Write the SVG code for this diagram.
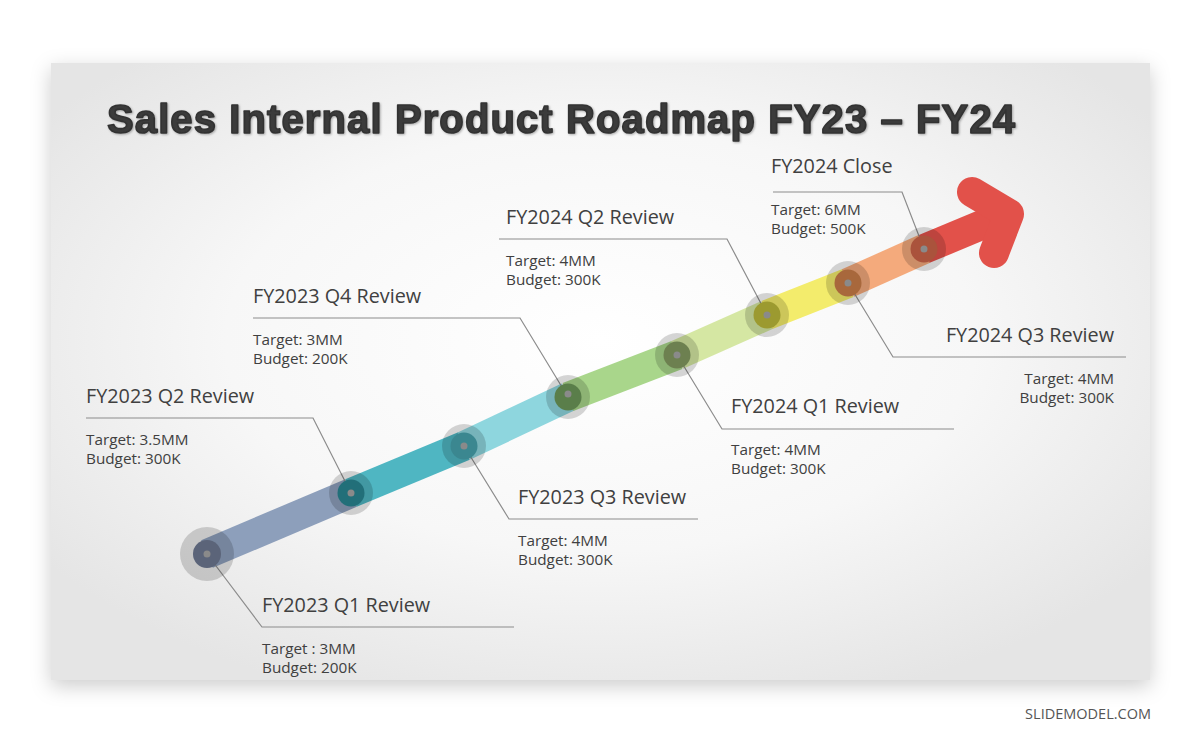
<svg xmlns="http://www.w3.org/2000/svg" width="1200" height="743" viewBox="0 0 1200 743">
<defs>
<radialGradient id="bg" cx="0.5" cy="0.45" r="0.62">
<stop offset="0" stop-color="#ffffff"/>
<stop offset="0.55" stop-color="#f7f7f7"/>
<stop offset="1" stop-color="#e5e5e5"/>
</radialGradient>
<filter id="sh" x="-10%" y="-10%" width="120%" height="125%">
<feDropShadow dx="0" dy="6" stdDeviation="10" flood-color="#000" flood-opacity="0.2"/>
</filter>
<filter id="ts" x="-5%" y="-20%" width="110%" height="150%">
<feDropShadow dx="1" dy="1" stdDeviation="0.8" flood-color="#000" flood-opacity="0.3"/>
</filter>
</defs>
<style>
.lbl{font-family:"Open Sans","Noto Sans","Liberation Sans",sans-serif;font-size:19.8px;fill:#404040}
.sub{font-family:"Open Sans","Noto Sans","Liberation Sans",sans-serif;font-size:15.3px;fill:#404040}
.ldr{fill:none;stroke:#8c8c8c;stroke-width:1.2}
.band{stroke-width:30;fill:none;stroke-linecap:butt}
.halo{fill:#000;fill-opacity:0.16}
.dot{fill:#8a8a8a}
</style>
<rect x="0" y="0" width="1200" height="743" fill="#ffffff"/>
<rect x="51" y="63" width="1099" height="617" fill="url(#bg)" filter="url(#sh)"/>
<text x="107" y="133" textLength="908" lengthAdjust="spacing" font-family="Liberation Sans,Arial,sans-serif" font-weight="bold" font-size="40" fill="#3a3a3a" stroke="#333333" stroke-width="1.6" stroke-linejoin="round" filter="url(#ts)">Sales Internal Product Roadmap FY23 – FY24</text>

<g id="band">
<line class="band" x1="207" y1="554" x2="351" y2="493" stroke="#8D9FBB"/>
<line class="band" x1="351" y1="493" x2="464" y2="446" stroke="#4FB6C2"/>
<line class="band" x1="464" y1="446" x2="568" y2="397" stroke="#8ED6DE"/>
<line class="band" x1="568" y1="397" x2="677" y2="355" stroke="#A9D68B"/>
<line class="band" x1="677" y1="355" x2="767" y2="315" stroke="#D5E7A3"/>
<line class="band" x1="767" y1="315" x2="848" y2="283" stroke="#F3EC6C"/>
<line class="band" x1="848" y1="283" x2="924" y2="249" stroke="#F4AA7C"/>
<path d="M924 249 L1008 214" stroke="#E2514A" stroke-width="30" fill="none"/>
<path d="M972 192 L1009 214 L994 253" stroke="#E2514A" stroke-width="30" fill="none" stroke-linecap="round" stroke-linejoin="round"/>
</g>

<g id="connectors">
<polyline class="ldr" points="207,554 262,627 514,627"/>
<polyline class="ldr" points="351,493 313,418 86,418"/>
<polyline class="ldr" points="464,446 509,519 698,519"/>
<polyline class="ldr" points="568,397 520,318 253,318"/>
<polyline class="ldr" points="677,355 722,429 954,429"/>
<polyline class="ldr" points="767,315 727,239 499,239"/>
<polyline class="ldr" points="848,283 893,357 1126,357"/>
<polyline class="ldr" points="924,249 902,192 773,192"/>
</g>

<g id="n1">
<circle class="halo" cx="207" cy="554" r="27"/>
<circle cx="207" cy="554" r="14" fill="#5B6479"/>
<circle class="dot" cx="207" cy="554" r="3.5"/>
<text class="lbl" x="262" y="612">FY2023 Q1 Review</text>
<text class="sub" x="262" y="654">Target : 3MM</text>
<text class="sub" x="262" y="673">Budget: 200K</text>
</g>
<g id="n2">
<circle class="halo" cx="351" cy="493" r="22"/>
<circle cx="351" cy="493" r="13.5" fill="#226F79"/>
<circle class="dot" cx="351" cy="493" r="3.5"/>
<text class="lbl" x="86" y="403">FY2023 Q2 Review</text>
<text class="sub" x="86" y="445">Target: 3.5MM</text>
<text class="sub" x="86" y="464">Budget: 300K</text>
</g>
<g id="n3">
<circle class="halo" cx="464" cy="446" r="22"/>
<circle cx="464" cy="446" r="13.5" fill="#3B8790"/>
<circle class="dot" cx="464" cy="446" r="3.5"/>
<text class="lbl" x="518" y="504">FY2023 Q3 Review</text>
<text class="sub" x="518" y="546">Target: 4MM</text>
<text class="sub" x="518" y="565">Budget: 300K</text>
</g>
<g id="n4">
<circle class="halo" cx="568" cy="397" r="22"/>
<circle cx="568" cy="397" r="13.5" fill="#5A7E4A"/>
<circle class="dot" cx="568" cy="394" r="3.5"/>
<text class="lbl" x="253" y="303">FY2023 Q4 Review</text>
<text class="sub" x="253" y="345">Target: 3MM</text>
<text class="sub" x="253" y="364">Budget: 200K</text>
</g>
<g id="n5">
<circle class="halo" cx="677" cy="355" r="22"/>
<circle cx="677" cy="355" r="13.5" fill="#6D8050"/>
<circle class="dot" cx="677" cy="355" r="3.5"/>
<text class="lbl" x="731" y="413">FY2024 Q1 Review</text>
<text class="sub" x="731" y="455">Target: 4MM</text>
<text class="sub" x="731" y="474">Budget: 300K</text>
</g>
<g id="n6">
<circle class="halo" cx="767" cy="315" r="22"/>
<circle cx="767" cy="315" r="13.5" fill="#9C9A30"/>
<circle class="dot" cx="767" cy="315" r="3.5"/>
<text class="lbl" x="506" y="224">FY2024 Q2 Review</text>
<text class="sub" x="506" y="266">Target: 4MM</text>
<text class="sub" x="506" y="285">Budget: 300K</text>
</g>
<g id="n7">
<circle class="halo" cx="848" cy="283" r="22"/>
<circle cx="848" cy="283" r="13.5" fill="#A8683C"/>
<circle class="dot" cx="848" cy="283" r="3.5"/>
<text class="lbl" x="1114" y="342" text-anchor="end">FY2024 Q3 Review</text>
<text class="sub" x="1114" y="384" text-anchor="end">Target: 4MM</text>
<text class="sub" x="1114" y="403" text-anchor="end">Budget: 300K</text>
</g>
<g id="n8">
<circle class="halo" cx="924" cy="249" r="22"/>
<circle cx="924" cy="249" r="13.5" fill="#AA533C"/>
<circle class="dot" cx="924" cy="249" r="3.5"/>
<text class="lbl" x="771" y="173">FY2024 Close</text>
<text class="sub" x="771" y="215">Target: 6MM</text>
<text class="sub" x="771" y="234">Budget: 500K</text>
</g>
<text x="1151" y="719" text-anchor="end" font-family="Open Sans,Noto Sans,Liberation Sans,sans-serif" font-size="14.5" fill="#555555">SLIDEMODEL.COM</text>
</svg>
